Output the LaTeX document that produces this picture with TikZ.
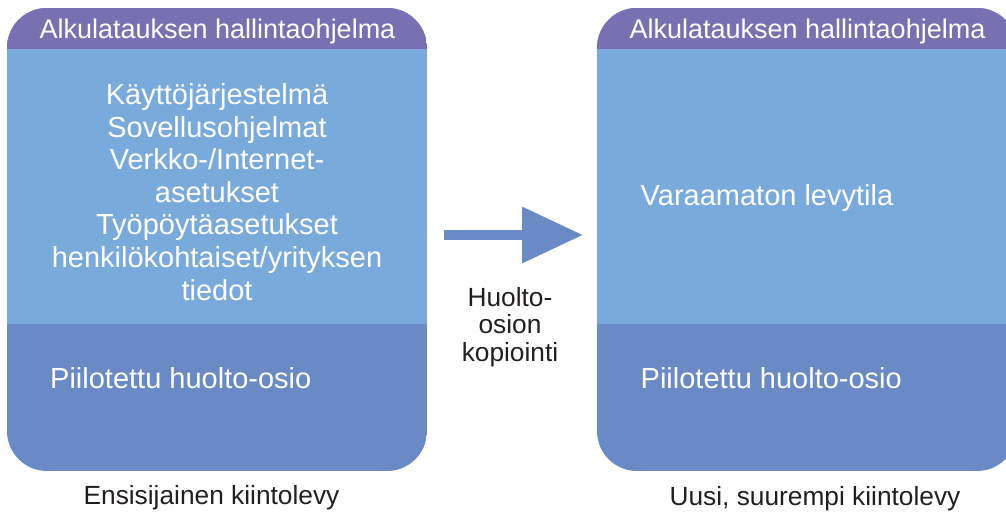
\documentclass[tikz,border=0pt]{standalone}
\usepackage{fontspec}
\setmainfont{Liberation Sans}
\usetikzlibrary{arrows.meta}
\definecolor{hdrpurple}{HTML}{7870B0}
\definecolor{lightblue}{HTML}{7AAADB}
\definecolor{darkblue}{HTML}{6A8AC6}
\definecolor{textblack}{HTML}{231F20}
\tikzset{
  disk/.style={minimum width=420pt, minimum height=463pt, inner sep=0pt, outer sep=0pt,
    rounded corners=40pt,
    path picture={
      \fill[darkblue, sharp corners] (path picture bounding box.south west) rectangle (path picture bounding box.north east);
      \fill[lightblue, sharp corners] (path picture bounding box.north west) rectangle ([yshift=-316pt]path picture bounding box.north east);
      \fill[hdrpurple, sharp corners] (path picture bounding box.north west) rectangle ([yshift=-41pt]path picture bounding box.north east);
    }},
  wtext/.style={text=white, inner sep=0pt, anchor=base},
  ktext/.style={text=textblack, inner sep=0pt, anchor=base},
  titlefont/.style={font=\fontsize{27}{30}\selectfont},
  bodyfont/.style={font=\fontsize{29}{32.6}\selectfont},
  labelfont/.style={font=\fontsize{26.3}{27.5}\selectfont},
  copyarrow/.style={draw=darkblue, line width=10pt, -{Triangle[length=61pt,width=54pt,fill=darkblue]}}
}
\begin{document}
\begin{tikzpicture}[x=1pt,y=-1pt]
\useasboundingbox (0,0) rectangle (1006,513);
\clip (0,0) rectangle (1006,513);
\node[disk] (diskL) at (217,239.5) {};
\node[disk] (diskR) at (807,239.5) {};
% titles
\node[wtext, titlefont] (titleL) at (217.5,39) {Alkulatauksen hallintaohjelma};
\node[wtext, titlefont] (titleR) at (807.5,39) {Alkulatauksen hallintaohjelma};
% left contents (base anchor = baseline of last line)
\node[wtext, bodyfont, align=center] (contentsL) at (217,300) {Käyttöjärjestelmä\\Sovellusohjelmat\\Verkko-/Internet-\\asetukset\\Työpöytäasetukset\\henkilökohtaiset/yrityksen\\tiedot};
\node[wtext, bodyfont, anchor=base west] (hiddenL) at (50,388) {Piilotettu huolto-osio};
% right contents
\node[wtext, bodyfont, anchor=base west] (freeR) at (640.5,205) {Varaamaton levytila};
\node[wtext, bodyfont, anchor=base west] (hiddenR) at (640.5,388) {Piilotettu huolto-osio};
% arrow
\coordinate (arrowstart) at (444,235);
\coordinate (arrowend) at (583,235);
\draw[copyarrow] (arrowstart) -- (arrowend);
\node[ktext, labelfont, align=center] (copylabel) at (510,361) {Huolto-\\osion\\kopiointi};
% captions
\node[ktext, labelfont] (capL) at (211.5,504) {Ensisijainen kiintolevy};
\node[ktext, labelfont] (capR) at (815,505) {Uusi, suurempi kiintolevy};
\end{tikzpicture}
\end{document}
